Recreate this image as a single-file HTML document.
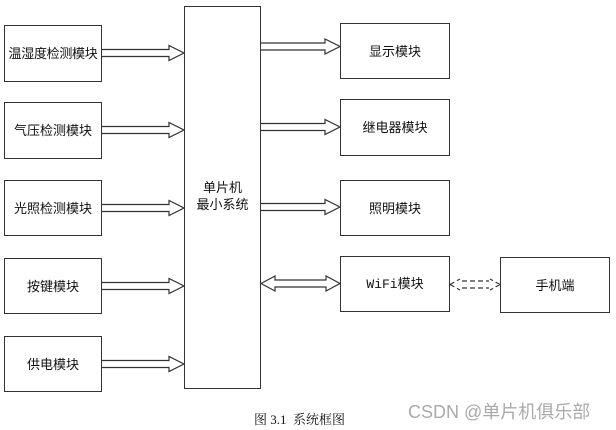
<!DOCTYPE html>
<html><head><meta charset="utf-8"><style>
body{margin:0;background:#fff;width:616px;height:430px;overflow:hidden;position:relative;font-family:"Liberation Sans","Noto Sans CJK SC",sans-serif}
.b{position:absolute;border:1.3px solid #333;box-sizing:border-box;display:flex;align-items:center;justify-content:center;font-size:13px;color:#111;text-align:center;line-height:17px;white-space:nowrap}
svg{position:absolute;left:0;top:0}
</style></head><body>
<div class="b" style="left:4px;top:25px;width:98px;height:57px;font-size:13px;letter-spacing:-0.3px">温湿度检测模块</div>
<div class="b" style="left:4px;top:102px;width:98px;height:57px">气压检测模块</div>
<div class="b" style="left:4px;top:180px;width:98px;height:56px">光照检测模块</div>
<div class="b" style="left:4px;top:258px;width:98px;height:56px">按键模块</div>
<div class="b" style="left:4px;top:336px;width:98px;height:56px">供电模块</div>
<div class="b" style="left:184px;top:6px;width:77px;height:383px;align-items:flex-start;padding-top:172px;white-space:normal">单片机<br>最小系统</div>
<div class="b" style="left:340px;top:23px;width:110px;height:56px">显示模块</div>
<div class="b" style="left:340px;top:99px;width:110px;height:57px">继电器模块</div>
<div class="b" style="left:340px;top:180px;width:110px;height:56px">照明模块</div>
<div class="b" style="left:340px;top:256px;width:110px;height:56px;font-family:'Liberation Mono','Noto Sans CJK SC',monospace">WiFi模块</div>
<div class="b" style="left:500px;top:257px;width:110px;height:56px">手机端</div>
<svg width="616" height="430" fill="none" stroke="#333" stroke-width="1.2">
<g id="a">
<path d="M102 49.5H169V45.5L184 53L169 60.5V56.5H102"/>
</g>
<use href="#a" y="77"/><use href="#a" y="155"/><use href="#a" y="233"/><use href="#a" y="311"/>
<path d="M261 43H325V39L340 46.5L325 54V50H261"/>
<path d="M261 123.5H325V119.5L340 127L325 134.5V130.5H261"/>
<path d="M261 203.5H325V199.5L340 207L325 214.5V210.5H261"/>
<path d="M261 283.5L275 276V280H326V276L340 283.5L326 291V287H275V291Z"/>
<path d="M450 284.5L460 279M450 284.5L460 290M500 284.5L490 279M500 284.5L490 290M462 281H489M462 288H489" stroke-dasharray="5 3"/>
</svg>
<div style="position:absolute;left:254px;top:409px;font-size:13px;font-family:'Liberation Serif','Noto Serif CJK SC',serif;color:#111">图 3.1&nbsp; 系统框图</div>
<div style="position:absolute;left:408px;top:398px;font-size:18px;color:#aaa">CSDN @单片机俱乐部</div>
</body></html>
